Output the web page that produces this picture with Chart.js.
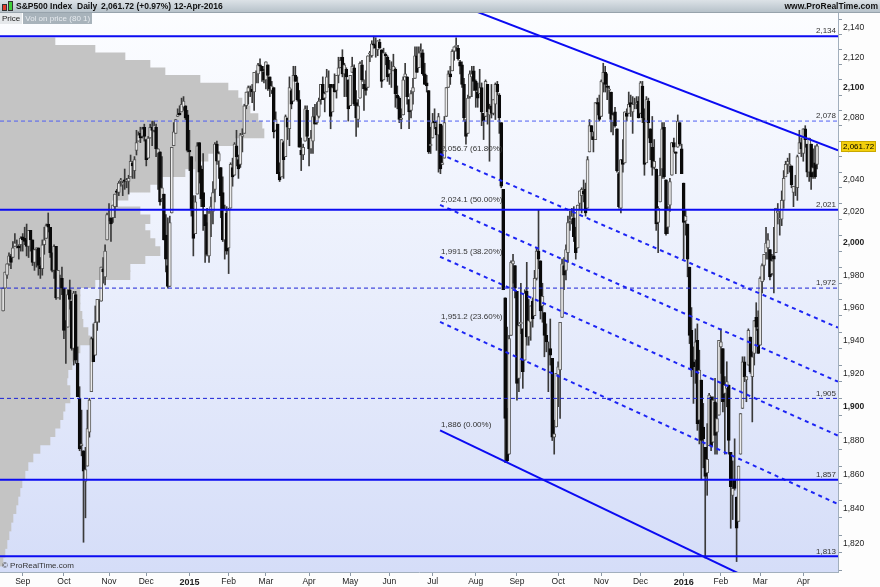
<!DOCTYPE html>
<html>
<head>
<meta charset="utf-8">
<script src="https://cdn.jsdelivr.net/npm/chart.js@4.4.1/dist/chart.umd.min.js"></script>
<style>
  html, body { margin: 0; padding: 0; background: #fff; }
  #wrap { position: relative; width: 880px; height: 587px; overflow: hidden; font-family: "Liberation Sans", Arial, sans-serif; }
  #chart { position: absolute; left: 0; top: 0; }
  #head { position: absolute; left: 0; top: 0; width: 880px; height: 13px; box-sizing: border-box;
          background: linear-gradient(#dce2e7, #b7c2ca); border-bottom: 1px solid #97a3ac;
          font-size: 8.5px; font-weight: bold; color: #111; }
  #head span { position: absolute; top: 0; line-height: 12px; white-space: pre; }
  #head .ico { position: absolute; width: 3px; border: 1px solid #333; }
  #tabs { position: absolute; left: 0; top: 13px; height: 11px; font-size: 8px; line-height: 11px; white-space: pre; }
  #tabs span { display: inline-block; padding: 0 2px; height: 11px; vertical-align: top; }
  #tabs .on { background: #e5e8eb; color: #222; border-right: 1px solid #fff; }
  #tabs .off { background: #a8b3bb; color: #e6eaee; }
</style>
</head>
<body>
<div id="wrap">
  <canvas id="chart" width="880" height="587"></canvas>
  <div id="head">
    <div class="ico" style="left:2px;top:4px;height:5px;background:#e23a2a"></div>
    <div class="ico" style="left:8px;top:1px;height:8px;background:#3fcf3a"></div>
    <span style="left:16px">S&amp;P500 Index</span>
    <span style="left:77px">Daily</span>
    <span style="left:101px">2,061.72 (+0.97%)</span>
    <span style="left:174px">12-Apr-2016</span>
    <span style="right:2px">www.ProRealTime.com</span>
  </div>
  <div id="tabs"><span class="on">Price</span><span class="off">Vol on price (80 1)</span></div>
</div>
<script>
// trading-day index of the first session of each month, and its label
const monthTicks = [10, 31, 54, 73, 95, 115, 134, 156, 177, 197, 219, 241, 262, 283, 305, 325, 347, 366, 386, 408];
const monthLabels = ["Sep", "Oct", "Nov", "Dec", "2015", "Feb", "Mar", "Apr", "May", "Jun", "Jul",
  "Aug", "Sep", "Oct", "Nov", "Dec", "2016", "Feb", "Mar", "Apr"];

const yTicks = [1810, 1820, 1830, 1840, 1850, 1860, 1870, 1880, 1890, 1900, 1910, 1920, 1930, 1940, 1950,
  1960, 1970, 1980, 1990, 2000, 2010, 2020, 2030, 2040, 2050, 2060, 2070, 2080, 2090, 2100, 2110, 2120, 2130, 2140];

// daily S&P500, 18-Aug-2014 .. 12-Apr-2016
const opens = [
  1958,1972,1980,1987,1992,1991,1998,2000,1998,1999,
  2004,2003,2002,1998,2008,2002,1988,1996,1997,1986,1984,1999,2003,2012,2010,1994,1983,1998,1966,1978,1978,
  1972,1946,1948,1971,1964,1935,1968,1926,1905,1877,1874,1856,1865,1885,1909,1941,1931,1951,1962,1964,1984,1979,2002,
  2018,2016,2016,2023,2033,2032,2039,2037,2040,2039,2039,2042,2051,2046,2059,2065,2070,2068,2074,
  2066,2054,2067,2074,2072,2074,2057,2058,2028,2031,2005,1986,1973,2019,2062,2070,2081,2083,2084,2087,2088,2082,
  2059,2055,2022,2006,2031,2064,2047,2032,2018,2013,1992,2020,2020,2034,2063,2052,2048,2032,2002,2019,
  1997,2022,2048,2043,2062,2053,2050,2068,2070,2088,2097,2100,2099,2097,2110,2109,2115,2114,2110,
  2105,2115,2107,2098,2100,2072,2076,2045,2042,2064,2055,2080,2073,2098,2091,2108,2103,2092,2059,2056,2065,2085,
  2067,2060,2065,2081,2077,2081,2092,2102,2093,2097,2105,2102,2084,2102,2098,2108,2113,2120,2109,2112,2105,
  2088,2110,2113,2090,2079,2093,2115,2102,2100,2100,2122,2121,2129,2128,2125,2130,2125,2105,2122,2120,
  2109,2110,2111,2112,2095,2093,2079,2082,2107,2107,2092,2085,2097,2106,2121,2113,2123,2123,2109,2103,2098,2062,
  2067,2078,2074,2069,2076,2050,2054,2081,2100,2109,2111,2124,2127,2126,2117,2115,2102,2078,2070,2094,2107,2111,
  2104,2097,2096,2100,2083,2081,2102,2082,2088,2083,2089,2102,2095,2077,2034,1966,1899,1872,1943,1987,1986,
  1970,1917,1950,1947,1928,1970,1942,1951,1964,1955,1978,1995,1989,1961,1957,1943,1932,1935,1929,1882,1888,
  1919,1922,1954,1986,1983,1994,2014,2015,2016,2004,1997,2025,2030,2033,2034,2022,2058,2075,2068,2066,2090,2090,
  2081,2103,2110,2101,2098,2097,2077,2084,2073,2044,2022,2053,2051,2083,2083,2090,2084,2089,2089,2091,
  2083,2101,2080,2051,2091,2073,2061,2048,2047,2013,2026,2047,2074,2040,2010,2024,2043,2064,2058,2061,2077,2060,
  2038,2014,2012,1985,1946,1927,1928,1940,1892,1916,1888,1876,1861,1877,1906,1879,1903,1885,1895,
  1936,1935,1908,1911,1913,1873,1848,1857,1847,1833,1872,1899,1927,1916,1925,1942,1918,1932,1954,1947,
  1937,1976,1986,1994,1997,1996,1981,1992,1994,2019,2015,2015,2027,2042,2050,2049,2049,2032,2037,2035,2057,2064,
  2057,2073,2063,2045,2063,2045,2051,2050
];
const highs = [
  1972,1982,1987,1994,1993,2001,2006,2002,1999,2004,
  2006,2010,2012,2008,2008,2002,1996,1997,1997,1991,2002,2010,2012,2019,2010,1994,1999,1998,1983,1980,1985,
  1972,1952,1971,1977,1964,1970,1970,1936,1912,1898,1874,1876,1898,1905,1942,1950,1961,1965,1965,1985,1991,1999,2019,
  2025,2016,2024,2031,2034,2039,2041,2039,2047,2041,2043,2056,2052,2055,2072,2071,2074,2074,2076,
  2066,2068,2076,2078,2078,2076,2060,2058,2055,2031,2018,2016,2017,2061,2077,2079,2086,2088,2093,2094,2088,2085,
  2072,2055,2030,2030,2064,2064,2049,2057,2018,2022,2020,2029,2039,2064,2065,2058,2048,2042,2024,2023,
  2022,2051,2054,2064,2072,2056,2070,2073,2089,2097,2101,2101,2102,2110,2111,2116,2119,2114,2112,
  2117,2115,2107,2104,2100,2084,2076,2051,2066,2065,2082,2080,2107,2099,2114,2114,2107,2098,2067,2063,2088,2088,
  2067,2072,2087,2089,2090,2093,2102,2107,2097,2112,2111,2102,2102,2109,2108,2120,2120,2125,2116,2113,2105,
  2108,2120,2115,2098,2092,2117,2118,2105,2111,2121,2124,2131,2134,2133,2131,2132,2125,2126,2123,2121,
  2118,2117,2122,2113,2101,2094,2086,2107,2116,2107,2092,2098,2106,2127,2127,2127,2129,2125,2116,2108,2098,2074,
  2083,2086,2078,2083,2076,2075,2081,2100,2111,2114,2125,2127,2133,2128,2118,2117,2106,2079,2095,2111,2114,2114,
  2105,2103,2112,2103,2083,2105,2102,2089,2102,2092,2103,2104,2096,2077,2034,1966,1948,1943,1989,1993,1986,
  1970,1949,1975,1947,1971,1988,1965,1961,1966,1983,1997,2021,1989,1975,1957,1950,1939,1953,1929,1892,1920,
  1927,1951,1990,1991,1999,2017,2020,2022,2023,2010,2024,2033,2035,2040,2038,2055,2079,2075,2071,2090,2093,2095,
  2105,2116,2114,2109,2101,2097,2083,2087,2073,2045,2053,2066,2084,2086,2097,2095,2094,2093,2094,2094,
  2104,2104,2086,2094,2093,2073,2081,2066,2047,2023,2054,2077,2077,2040,2023,2041,2064,2067,2058,2082,2077,2063,
  2038,2021,2012,1985,1960,1936,1947,1950,1934,1916,1902,1876,1890,1908,1906,1906,1917,1902,1940,
  1947,1935,1918,1927,1913,1873,1868,1881,1847,1865,1896,1930,1930,1918,1947,1942,1933,1952,1963,1958,
  1979,1987,1993,2010,2006,1996,1993,2010,2022,2025,2020,2033,2046,2052,2054,2057,2049,2036,2043,2056,2072,2067,
  2073,2075,2063,2067,2063,2060,2062,2063
];
const lows = [
  1958,1972,1978,1986,1984,1991,1998,1997,1990,1995,
  1995,1999,1992,1991,1995,1986,1983,1985,1980,1978,1980,1993,2003,2007,1991,1982,1978,1965,1966,1965,1968,
  1941,1926,1948,1959,1934,1925,1926,1906,1874,1871,1821,1835,1865,1882,1909,1927,1931,1946,1951,1964,1975,1974,2002,
  2014,2001,2013,2016,2023,2030,2036,2030,2034,2035,2031,2042,2041,2041,2056,2065,2064,2067,2065,
  2049,2054,2067,2062,2071,2055,2034,2024,2028,2002,1982,1972,1973,2019,2062,2070,2081,2082,2084,2085,2079,2058,
  2046,2017,1992,2006,2031,2038,2023,2008,1988,1992,1988,2004,2012,2026,2050,2041,2016,2001,1990,1993,
  1981,2022,2036,2043,2049,2041,2048,2058,2070,2086,2089,2094,2090,2085,2103,2103,2111,2104,2103,
  2099,2098,2094,2096,2067,2072,2044,2039,2042,2041,2055,2066,2062,2086,2091,2104,2091,2061,2046,2053,2065,2067,
  2049,2057,2057,2076,2076,2080,2089,2092,2084,2097,2100,2073,2084,2097,2093,2103,2113,2107,2094,2094,2078,
  2088,2110,2088,2068,2074,2093,2104,2085,2095,2100,2117,2120,2126,2120,2121,2126,2100,2105,2115,2104,
  2102,2100,2111,2087,2086,2077,2073,2082,2107,2089,2073,2080,2089,2106,2110,2113,2120,2108,2102,2097,2057,2057,
  2067,2073,2059,2045,2044,2050,2054,2081,2100,2102,2111,2118,2124,2118,2109,2100,2078,2063,2070,2093,2094,2098,
  2087,2087,2096,2075,2066,2081,2076,2052,2080,2082,2079,2095,2070,2035,1971,1867,1867,1872,1943,1975,1966,
  1904,1909,1944,1911,1928,1937,1937,1940,1948,1955,1977,1984,1953,1951,1930,1933,1909,1925,1880,1872,1888,
  1900,1893,1954,1971,1977,1988,2008,2012,2001,1990,1997,2021,2019,2026,2017,2022,2058,2066,2058,2066,2082,2078,
  2081,2097,2097,2092,2083,2071,2069,2074,2045,2022,2019,2045,2051,2078,2083,2081,2070,2086,2086,2080,
  2083,2077,2043,2051,2067,2053,2043,2047,2008,1994,2026,2041,2041,2005,2006,2020,2043,2058,2044,2061,2062,2044,
  1990,2005,1979,1938,1918,1902,1914,1886,1878,1857,1864,1812,1848,1877,1874,1879,1872,1872,1895,
  1920,1897,1872,1900,1872,1829,1834,1851,1810,1833,1872,1899,1915,1903,1925,1920,1891,1925,1946,1932,
  1937,1969,1977,1990,1990,1977,1980,1969,1994,2012,2005,2011,2022,2042,2044,2045,2035,2023,2030,2027,2057,2055,
  2052,2061,2042,2039,2034,2041,2041,2047
];
const closes = [
  1972,1982,1987,1992,1988,1997,2000,2000,1997,2003,
  2002,2001,1998,2008,2002,1988,1996,1997,1986,1984,1999,2002,2011,2010,1994,1983,1998,1966,1983,1978,1972,
  1946,1946,1968,1965,1935,1969,1928,1906,1875,1878,1862,1863,1887,1904,1941,1927,1951,1965,1962,1985,1982,1995,2018,
  2018,2012,2024,2031,2032,2038,2040,2038,2039,2040,2041,2052,2049,2053,2064,2069,2067,2073,2068,
  2053,2067,2074,2072,2075,2060,2060,2026,2035,2002,1990,1973,2013,2061,2071,2079,2082,2082,2089,2091,2080,2059,
  2058,2021,2003,2026,2062,2045,2028,2023,2011,1993,2019,2023,2032,2063,2052,2057,2030,2002,2021,1995,
  2021,2050,2042,2063,2055,2047,2069,2069,2088,2097,2100,2100,2097,2110,2110,2115,2114,2111,2105,
  2117,2108,2099,2101,2071,2079,2044,2040,2066,2053,2081,2074,2100,2089,2108,2104,2092,2061,2056,2061,2086,2068,
  2060,2067,2081,2076,2082,2091,2102,2092,2096,2107,2105,2081,2100,2097,2108,2113,2118,2109,2115,2107,2086,
  2108,2114,2089,2080,2088,2116,2105,2099,2098,2121,2123,2129,2128,2126,2131,2126,2104,2123,2121,2107,
  2112,2110,2114,2096,2093,2079,2080,2105,2109,2094,2084,2096,2100,2121,2110,2123,2124,2109,2102,2101,2058,2063,
  2077,2077,2069,2081,2047,2051,2077,2100,2109,2107,2124,2127,2128,2119,2114,2102,2080,2068,2093,2109,2109,2104,
  2098,2093,2100,2084,2078,2104,2084,2086,2083,2092,2102,2097,2080,2036,1971,1893,1868,1941,1988,1989,1972,
  1914,1949,1951,1921,1969,1942,1952,1961,1953,1978,1995,1990,1958,1967,1943,1939,1932,1931,1882,1884,1920,
  1924,1951,1987,1980,1996,2013,2015,2017,2004,1994,2024,2033,2034,2031,2019,2053,2075,2071,2066,2090,2089,2079,
  2104,2110,2102,2100,2099,2079,2082,2075,2046,2023,2053,2050,2084,2081,2089,2087,2089,2089,2090,2080,
  2103,2080,2050,2092,2077,2064,2048,2052,2012,2022,2043,2073,2042,2006,2021,2039,2064,2061,2057,2078,2063,2044,
  2013,2017,1990,1943,1922,1924,1939,1890,1922,1880,1881,1859,1869,1907,1877,1904,1883,1893,1940,
  1939,1903,1913,1915,1880,1853,1852,1852,1829,1865,1896,1927,1918,1918,1946,1921,1930,1952,1948,1932,
  1978,1986,1993,2000,2002,1979,1989,1990,2022,2020,2016,2027,2041,2050,2052,2050,2037,2036,2037,2055,2064,2060,
  2073,2066,2045,2067,2042,2048,2042,2062
];
const lastClose = 2061.72;

// volume on price profile (relative volume per 5-point band)
const profilePrices = [2130, 2125, 2120, 2115, 2110, 2105, 2100, 2095, 2090, 2085, 2080, 2075, 2070, 2065, 2060,
  2055, 2050, 2045, 2040, 2035, 2030, 2025, 2020, 2015, 2010, 2005, 2000, 1995, 1990, 1985, 1980, 1975, 1970,
  1965, 1960, 1955, 1950, 1945, 1940, 1935, 1930, 1925, 1920, 1915, 1910, 1905, 1900, 1895, 1890, 1885, 1880,
  1875, 1870, 1865, 1860, 1855, 1850, 1845, 1840, 1835, 1830, 1825, 1820, 1815, 1810];
const profileVolume = [55, 95, 125, 150, 165, 200, 228, 238, 242, 250, 258, 262, 264, 235, 218,
  208, 195, 185, 160, 150, 128, 112, 140, 150, 145, 150, 155, 160, 145, 130, 130, 95, 80,
  80, 80, 82, 83, 88, 90, 80, 75, 72, 68, 67, 70, 70, 65, 63, 60, 55, 50,
  40, 33, 28, 25, 22, 20, 18, 16, 13, 11, 9, 7, 5, 3];

// support / resistance levels
const solidLevels = [2134, 2021, 1857, 1813];
const dashedLevels = [1972, 1905];
const lightDashedLevels = [2078];

// fibonacci channel: start / end trading-day index, prices at both ends
const fibStart = 222.8;
const fibEnd = 425.7;
const fibStartPrices = [2056.7, 2024.1, 1991.5, 1951.2];
const fibEndPrices = [1947.7, 1915.0, 1882.9, 1842.9];
const fibLabels = ["2,056.7 (61.80%)", "2,024.1 (50.00%)", "1,991.5 (38.20%)", "1,951.2 (23.60%)"];
const channelTop = [2160, 2059];
const channelBottom = [1886, 1776.6];
const channelBottomLabel = "1,886 (0.00%)";

const X_MIN = -1.58, X_MAX = 425.7;
const FONT = '"Liberation Sans", Arial, sans-serif';
const BLUE = "#0b0bf2";

Chart.defaults.font.family = FONT;

const wicks = lows.map((l, i) => ({ x: i, y: [l, highs[i]] }));
const bodies = opens.map((o, i) => ({ x: i, y: [o, closes[i]] }));
const isUp = closes.map((c, i) => c >= opens[i]);

function seg(x0, y0, x1, y1) {
  return [{ x: x0, y: y0 }, { x: x1, y: y1 }];
}
function lineSet(data, color, width, dash) {
  return {
    type: "line", data, xAxisID: "x", yAxisID: "y",
    borderColor: color, borderWidth: width, borderDash: dash || [],
    pointRadius: 0, tension: 0, order: 1
  };
}

const datasets = [
  {
    type: "bar", indexAxis: "y", xAxisID: "xp", yAxisID: "y",
    data: profilePrices.map((p, i) => ({ x: profileVolume[i], y: p })),
    backgroundColor: "#c4c4c4", barThickness: 9, grouped: false, order: 10
  },
  {
    type: "bar", xAxisID: "x", yAxisID: "y", data: wicks,
    backgroundColor: "#3a3a3a", barThickness: 1, grouped: false, order: 6
  },
  {
    type: "bar", xAxisID: "x", yAxisID: "y", data: bodies,
    backgroundColor: isUp.map(u => (u ? "#ececec" : "#0a0a0a")),
    borderColor: isUp.map(u => (u ? "#5a5a5a" : "#0a0a0a")),
    borderWidth: 1, borderSkipped: false, barThickness: 3, grouped: false, order: 5
  }
];
solidLevels.forEach(l => datasets.push(lineSet(seg(X_MIN, l, X_MAX, l), BLUE, 2)));
dashedLevels.forEach(l => datasets.push(lineSet(seg(X_MIN, l, X_MAX, l), "#1b22d6", 1, [4, 3])));
lightDashedLevels.forEach(l => datasets.push(lineSet(seg(X_MIN, l, X_MAX, l), "#4f5ff2", 1, [4, 3])));
fibStartPrices.forEach((p, k) => datasets.push(lineSet(seg(fibStart, p, fibEnd, fibEndPrices[k]), "#1c24f4", 2, [4, 4])));
datasets.push(lineSet(seg(fibStart, channelTop[0], fibEnd, channelTop[1]), BLUE, 2));
datasets.push(lineSet(seg(fibStart, channelBottom[0], fibEnd, channelBottom[1]), BLUE, 2));

const fmt = v => v.toLocaleString("en-US");

const decor = {
  id: "decor",
  beforeDraw(chart) {
    const { ctx, chartArea: a, width, height } = chart;
    ctx.save();
    ctx.fillStyle = "#fdfdfd";
    ctx.fillRect(0, 0, width, height);
    const g = ctx.createLinearGradient(0, a.top, 0, a.bottom);
    g.addColorStop(0, "#fcfdff");
    g.addColorStop(0.5, "#e9eefc");
    g.addColorStop(1, "#d5ddf8");
    ctx.fillStyle = g;
    ctx.fillRect(a.left, a.top, a.right - a.left, a.bottom - a.top);
    ctx.restore();
  },
  afterDatasetsDraw(chart) {
    const { ctx, chartArea: a } = chart;
    const x = chart.scales.x, y = chart.scales.y;
    ctx.save();
    ctx.font = "8px " + FONT;
    ctx.fillStyle = "#333";
    ctx.textBaseline = "bottom";
    ctx.textAlign = "right";
    solidLevels.concat(dashedLevels, lightDashedLevels).forEach(l => {
      ctx.fillText(fmt(l), a.right - 2, y.getPixelForValue(l) - 1);
    });
    ctx.textAlign = "left";
    const fx = x.getPixelForValue(fibStart) + 1;
    fibStartPrices.forEach((p, k) => ctx.fillText(fibLabels[k], fx, y.getPixelForValue(p) - 1));
    ctx.fillText(channelBottomLabel, fx, y.getPixelForValue(channelBottom[0]) - 2);
    ctx.textBaseline = "middle";
    ctx.fillText("\u00a9 ProRealTime.com", 2, a.bottom - 6);
    ctx.restore();
  },
  afterDraw(chart) {
    const { ctx } = chart;
    const y = chart.scales.y;
    const py = Math.round(y.getPixelForValue(lastClose));
    ctx.save();
    ctx.fillStyle = "#f3cf0c";
    ctx.fillRect(841, py - 5, 35, 11);
    ctx.strokeStyle = "#c9a800";
    ctx.strokeRect(841.5, py - 4.5, 34, 10);
    ctx.fillStyle = "#000";
    ctx.font = "8px " + FONT;
    ctx.textBaseline = "middle";
    ctx.textAlign = "left";
    ctx.fillText("2,061.72", 843, py + 0.5);
    ctx.restore();
  }
};

new Chart(document.getElementById("chart"), {
  type: "bar",
  data: { datasets },
  plugins: [decor],
  options: {
    responsive: false,
    animation: false,
    devicePixelRatio: 1,
    events: [],
    layout: { padding: { top: 13, left: 0, right: 0, bottom: 0 } },
    plugins: { legend: { display: false }, tooltip: { enabled: false } },
    scales: {
      x: {
        type: "linear", position: "bottom", min: X_MIN, max: X_MAX, bounds: "data", offset: false,
        afterBuildTicks: s => { s.ticks = monthTicks.map(v => ({ value: v })); },
        afterFit: s => { s.height = 15; },
        grid: { drawOnChartArea: false, drawTicks: true, tickLength: 4, color: "#8c99a6", offset: false },
        border: { display: true, color: "#a2afbd" },
        ticks: {
          autoSkip: false, maxRotation: 0, padding: 1, color: "#222",
          callback: (v, i) => monthLabels[i],
          font: c => (c.tick && /^\d{4}$/.test(c.tick.label) ? { size: 9, weight: "bold" } : { size: 8.5, weight: "normal" })
        }
      },
      xp: { type: "linear", display: false, min: 0, max: 838, offset: false, position: "bottom" },
      y: {
        type: "logarithmic", position: "right", min: 1804.1, max: 2149.6, bounds: "data",
        afterBuildTicks: s => { s.ticks = yTicks.map(v => ({ value: v })); },
        afterFit: s => { s.width = 42; },
        grid: { drawOnChartArea: false, drawTicks: true, tickLength: 4, color: "#8c99a6" },
        border: { display: true, color: "#a2afbd" },
        ticks: {
          autoSkip: false, padding: 1, color: "#222",
          callback: v => (v % 20 === 0 ? fmt(v) : ""),
          font: c => ({ size: 8.5, weight: c.tick && c.tick.value % 100 === 0 ? "bold" : "normal" })
        }
      }
    }
  }
});
</script>
</body>
</html>
